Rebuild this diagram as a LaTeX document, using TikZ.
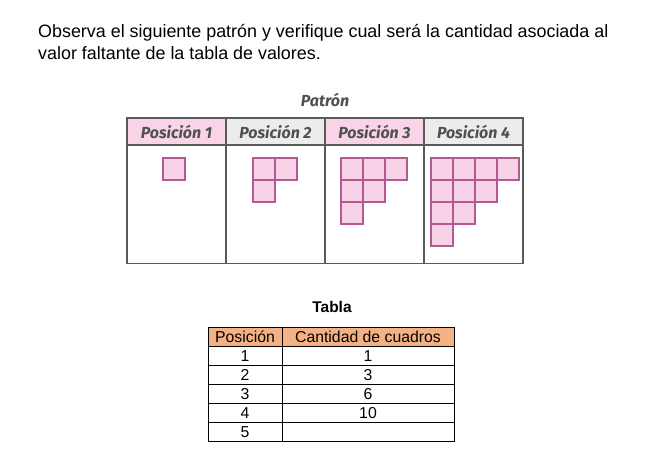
\documentclass[tikz,border=0pt]{standalone}
\usepackage{fontspec}
\setmainfont{Liberation Sans}
\newfontfamily\patfont{Fira Sans}
\definecolor{cellfill}{HTML}{F8D2E6}
\definecolor{celldraw}{HTML}{B25A91}
\definecolor{headpink}{HTML}{F9D3E6}
\definecolor{headgray}{HTML}{ECECEC}
\definecolor{gridgray}{HTML}{5A5A5A}
\definecolor{pattext}{HTML}{505050}
\definecolor{headorange}{HTML}{F4B183}
\begin{document}
\begin{tikzpicture}[x=1pt,y=-1pt,
  cell/.style={draw=celldraw,fill=cellfill,line width=1.9pt,inner sep=0pt,minimum size=22pt},
  pathead/.style={font=\patfont\bfseries\itshape\fontsize{16}{18}\selectfont,text=pattext,inner sep=0pt},
  grid/.style={draw=gridgray,line width=1.3pt},
  tgrid/.style={draw=black,line width=0.8pt},
  ttext/.style={font=\fontsize{15.8}{18}\selectfont,inner sep=0pt,anchor=base},
  intro/.style={font=\fontsize{17.9}{20}\selectfont,inner sep=0pt,anchor=base west}]
\useasboundingbox (0,0) rectangle (656,464);

% statement
\node[intro] (line1) at (38,37) {Observa el siguiente patrón y verifique cual será la cantidad asociada al};
\node[intro] (line2) at (38,59.5) {valor faltante de la tabla de valores.};

% pattern table
\node[pathead] (pattitle) at (325,100) {Patrón};
\fill[headpink] (127,118) rectangle (226,145);
\fill[headgray] (226,118) rectangle (325,145);
\fill[headpink] (325,118) rectangle (424,145);
\fill[headgray] (424,118) rectangle (523,145);
\draw[grid] (127,118) rectangle (523,263.5);
\draw[grid] (127,145) -- (523,145);
\foreach \x in {226,325,424} \draw[grid] (\x,118) -- (\x,263.5);
\foreach \k/\x in {1/176.5,2/275.5,3/374.5,4/473.5}
  \node[pathead] (head\k) at (\x,131.5) {Posición \k};

% staircase figures
\foreach \n/\x in {1/163,2/253,3/341,4/431} {
  \foreach \r in {1,...,\n} {
    \pgfmathtruncatemacro\m{\n-\r+1}
    \foreach \c in {1,...,\m} {
      \node[cell] (sq\n-\r-\c) at ({\x+(\c-0.5)*22},{158+(\r-0.5)*22}) {};
    }
  }
}

% values table
\node[font=\bfseries\fontsize{15.5}{18}\selectfont,inner sep=0pt,anchor=base] (tabtitle) at (332,312) {Tabla};
\fill[headorange] (208,327) rectangle (454,346);
\foreach \y in {346,365,384,403,422} \draw[tgrid] (208,\y) -- (454,\y);
\draw[tgrid] (208,327) rectangle (454,441);
\draw[tgrid] (282,327) -- (282,441);
\node[ttext] (hpos) at (245,342.5) {Posición};
\node[ttext] (hcant) at (368,342.5) {Cantidad de cuadros};
\foreach \i/\v [count=\j] in {1/1,2/3,3/6,4/10,5/{}} {
  \node[ttext] (p\j) at (245,{342.5+19*\j}) {\i};
  \node[ttext] (c\j) at (368,{342.5+19*\j}) {\v};
}
\end{tikzpicture}
\end{document}
